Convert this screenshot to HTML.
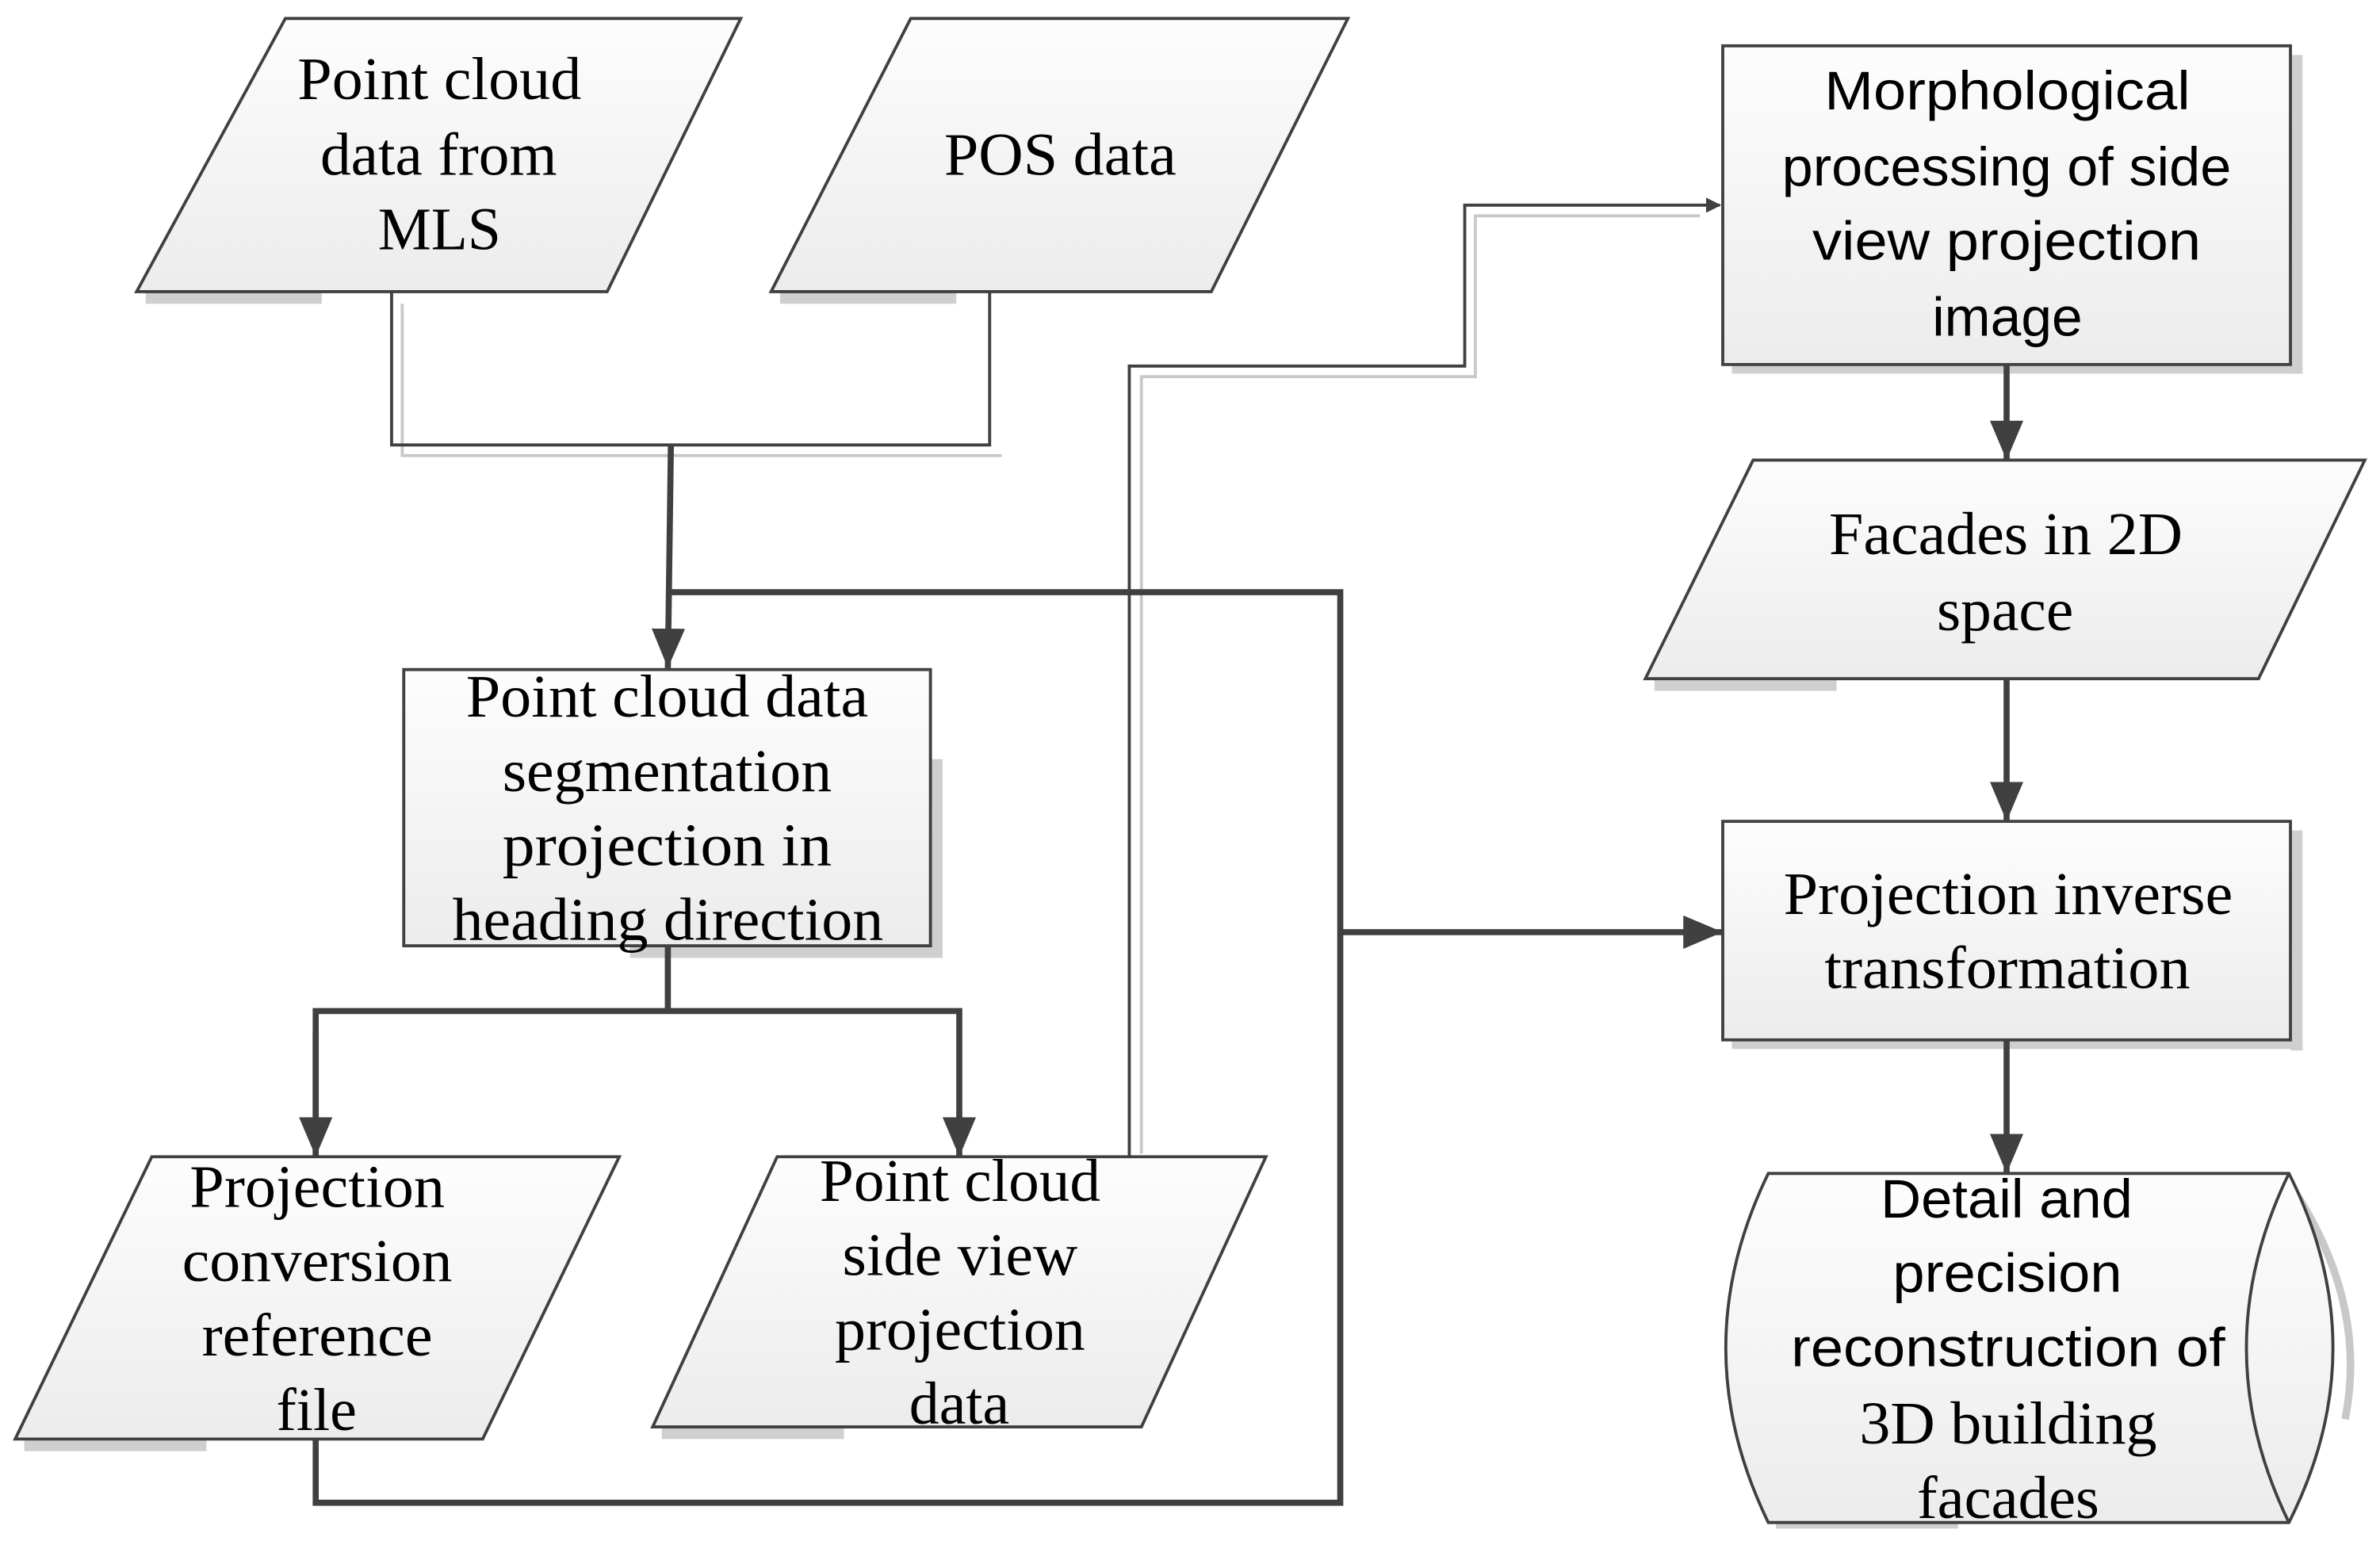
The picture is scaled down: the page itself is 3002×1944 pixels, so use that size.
<!DOCTYPE html>
<html><head><meta charset="utf-8"><style>
html,body{margin:0;padding:0;background:#fff;}
svg{display:block;}
.s{font-family:"Liberation Serif",serif;font-size:40px;fill:#000;}
.a{font-family:"Liberation Sans",sans-serif;font-size:36px;fill:#000;}
</style></head><body>
<svg width="3002" height="1944" viewBox="0 0 1568 1015" xmlns="http://www.w3.org/2000/svg">
<defs>
<linearGradient id="g" x1="0" y1="0" x2="0" y2="1"><stop offset="0" stop-color="#fdfdfd"/><stop offset="1" stop-color="#ececec"/></linearGradient>
<marker id="ar" markerWidth="10" markerHeight="10" refX="9" refY="5" orient="auto" markerUnits="userSpaceOnUse" viewBox="0 0 10 10"><path d="M0,0 L10,5 L0,10 z" fill="#404040"/></marker>
<marker id="ab" markerWidth="26" markerHeight="26" refX="26" refY="13" orient="auto" markerUnits="userSpaceOnUse" viewBox="0 0 26 26"><path d="M0,2 L26,13 L0,24 z" fill="#404040"/></marker>
</defs>
<g fill="#cfcfcf">
<rect x="96" y="192" width="116" height="8"/>
<rect x="514" y="192" width="116" height="8"/>
<rect x="613" y="500" width="8" height="130"/><rect x="415" y="623" width="206" height="8"/>
<rect x="1509" y="36" width="8" height="210"/><rect x="1141" y="240" width="376" height="6"/>
<rect x="1509" y="547" width="8" height="145"/><rect x="1141" y="685" width="376" height="6"/>
<rect x="1090" y="447" width="120" height="8"/>
<rect x="16" y="948" width="120" height="8"/>
<rect x="436" y="940" width="120" height="8"/>
<rect x="1170" y="1003" width="120" height="4"/>
</g>
<g fill="none" stroke="#c8c8c8" stroke-width="2">
<polyline points="265,200 265,300 660,300"/>
<polyline points="752,760 752,248 972,248 972,142 1120,142"/>
<path d="M1512,785 Q1560,860 1545,935" stroke-width="5"/>
</g>
<g stroke="#404040" stroke-width="2" fill="url(#g)">
<polygon points="188,12 488,12 400,192 90,192"/>
<polygon points="600,12 888,12 798,192 508,192"/>
<rect x="266" y="441" width="347" height="182"/>
<polygon points="100,762 408,762 318,948 10,948"/>
<polygon points="512,762 834,762 752,940 430,940"/>
<rect x="1135" y="30" width="374" height="210"/>
<polygon points="1155,303 1558,303 1488,447 1084,447"/>
<rect x="1135" y="541" width="374" height="144"/>
<path d="M1165,773 L1508,773 Q1566,888 1508,1003 L1165,1003 Q1109,888 1165,773 Z"/>
<path d="M1508,773 Q1452,888 1508,1003" fill="none"/>
</g>
<g fill="none" stroke="#404040" stroke-width="2">
<polyline points="258,192 258,293 652,293 652,192"/>
<polyline points="744,762 744,241 965,241 965,135 1133,135" marker-end="url(#ar)"/>
</g>
<g fill="none" stroke="#404040" stroke-width="4">
<line x1="442" y1="293" x2="440" y2="440" marker-end="url(#ab)"/>
<polyline points="442,390 883,390 883,990 208,990 208,948"/>
<line x1="883" y1="614" x2="1135" y2="614" marker-end="url(#ab)"/>
<line x1="440" y1="623" x2="440" y2="666"/>
<polyline points="208,762 208,666 632,666 632,762" marker-end="url(#ab)"/>
<line x1="208" y1="680" x2="208" y2="762" marker-end="url(#ab)"/>
<line x1="1322" y1="240" x2="1322" y2="303" marker-end="url(#ab)"/>
<line x1="1322" y1="447" x2="1322" y2="541" marker-end="url(#ab)"/>
<line x1="1322" y1="685" x2="1322" y2="773" marker-end="url(#ab)"/>
</g>
<g class="s">
<text x="196" y="65" textLength="187" lengthAdjust="spacingAndGlyphs">Point cloud</text>
<text x="211" y="115" textLength="156" lengthAdjust="spacingAndGlyphs">data from</text>
<text x="249" y="164" textLength="81" lengthAdjust="spacingAndGlyphs">MLS</text>
<text x="622" y="115" textLength="153" lengthAdjust="spacingAndGlyphs">POS data</text>
<text x="307" y="472" textLength="265" lengthAdjust="spacingAndGlyphs">Point cloud data</text>
<text x="331" y="521" textLength="217" lengthAdjust="spacingAndGlyphs">segmentation</text>
<text x="331" y="570" textLength="217" lengthAdjust="spacingAndGlyphs">projection  in</text>
<text x="298" y="619" textLength="284" lengthAdjust="spacingAndGlyphs">heading direction</text>
<text x="125" y="795" textLength="168" lengthAdjust="spacingAndGlyphs">Projection</text>
<text x="120" y="844" textLength="178" lengthAdjust="spacingAndGlyphs">conversion</text>
<text x="133" y="893" textLength="152" lengthAdjust="spacingAndGlyphs">reference</text>
<text x="182" y="942" textLength="53" lengthAdjust="spacingAndGlyphs">file</text>
<text x="540" y="791" textLength="185" lengthAdjust="spacingAndGlyphs">Point cloud</text>
<text x="555" y="840" textLength="155" lengthAdjust="spacingAndGlyphs">side view</text>
<text x="550" y="889" textLength="165" lengthAdjust="spacingAndGlyphs">projection</text>
<text x="599" y="938" textLength="66" lengthAdjust="spacingAndGlyphs">data</text>
<text x="1205" y="365" textLength="233" lengthAdjust="spacingAndGlyphs">Facades in 2D</text>
<text x="1276" y="415" textLength="90" lengthAdjust="spacingAndGlyphs">space</text>
<text x="1175" y="602" textLength="296" lengthAdjust="spacingAndGlyphs">Projection inverse</text>
<text x="1202" y="651" textLength="241" lengthAdjust="spacingAndGlyphs">transformation</text>
<text x="1225" y="951" textLength="196" lengthAdjust="spacingAndGlyphs">3D building</text>
<text x="1263" y="1000" textLength="120" lengthAdjust="spacingAndGlyphs">facades</text>
</g>
<g class="a">
<text x="1202" y="72" textLength="241" lengthAdjust="spacingAndGlyphs">Morphological</text>
<text x="1174" y="122" textLength="296" lengthAdjust="spacingAndGlyphs">processing of side</text>
<text x="1194" y="171" textLength="256" lengthAdjust="spacingAndGlyphs">view projection</text>
<text x="1273" y="221" textLength="99" lengthAdjust="spacingAndGlyphs">image</text>
<text x="1239" y="802" textLength="166" lengthAdjust="spacingAndGlyphs">Detail and</text>
<text x="1247" y="851" textLength="151" lengthAdjust="spacingAndGlyphs">precision</text>
<text x="1180" y="900" textLength="286" lengthAdjust="spacingAndGlyphs">reconstruction of</text>
</g>
</svg>
</body></html>
